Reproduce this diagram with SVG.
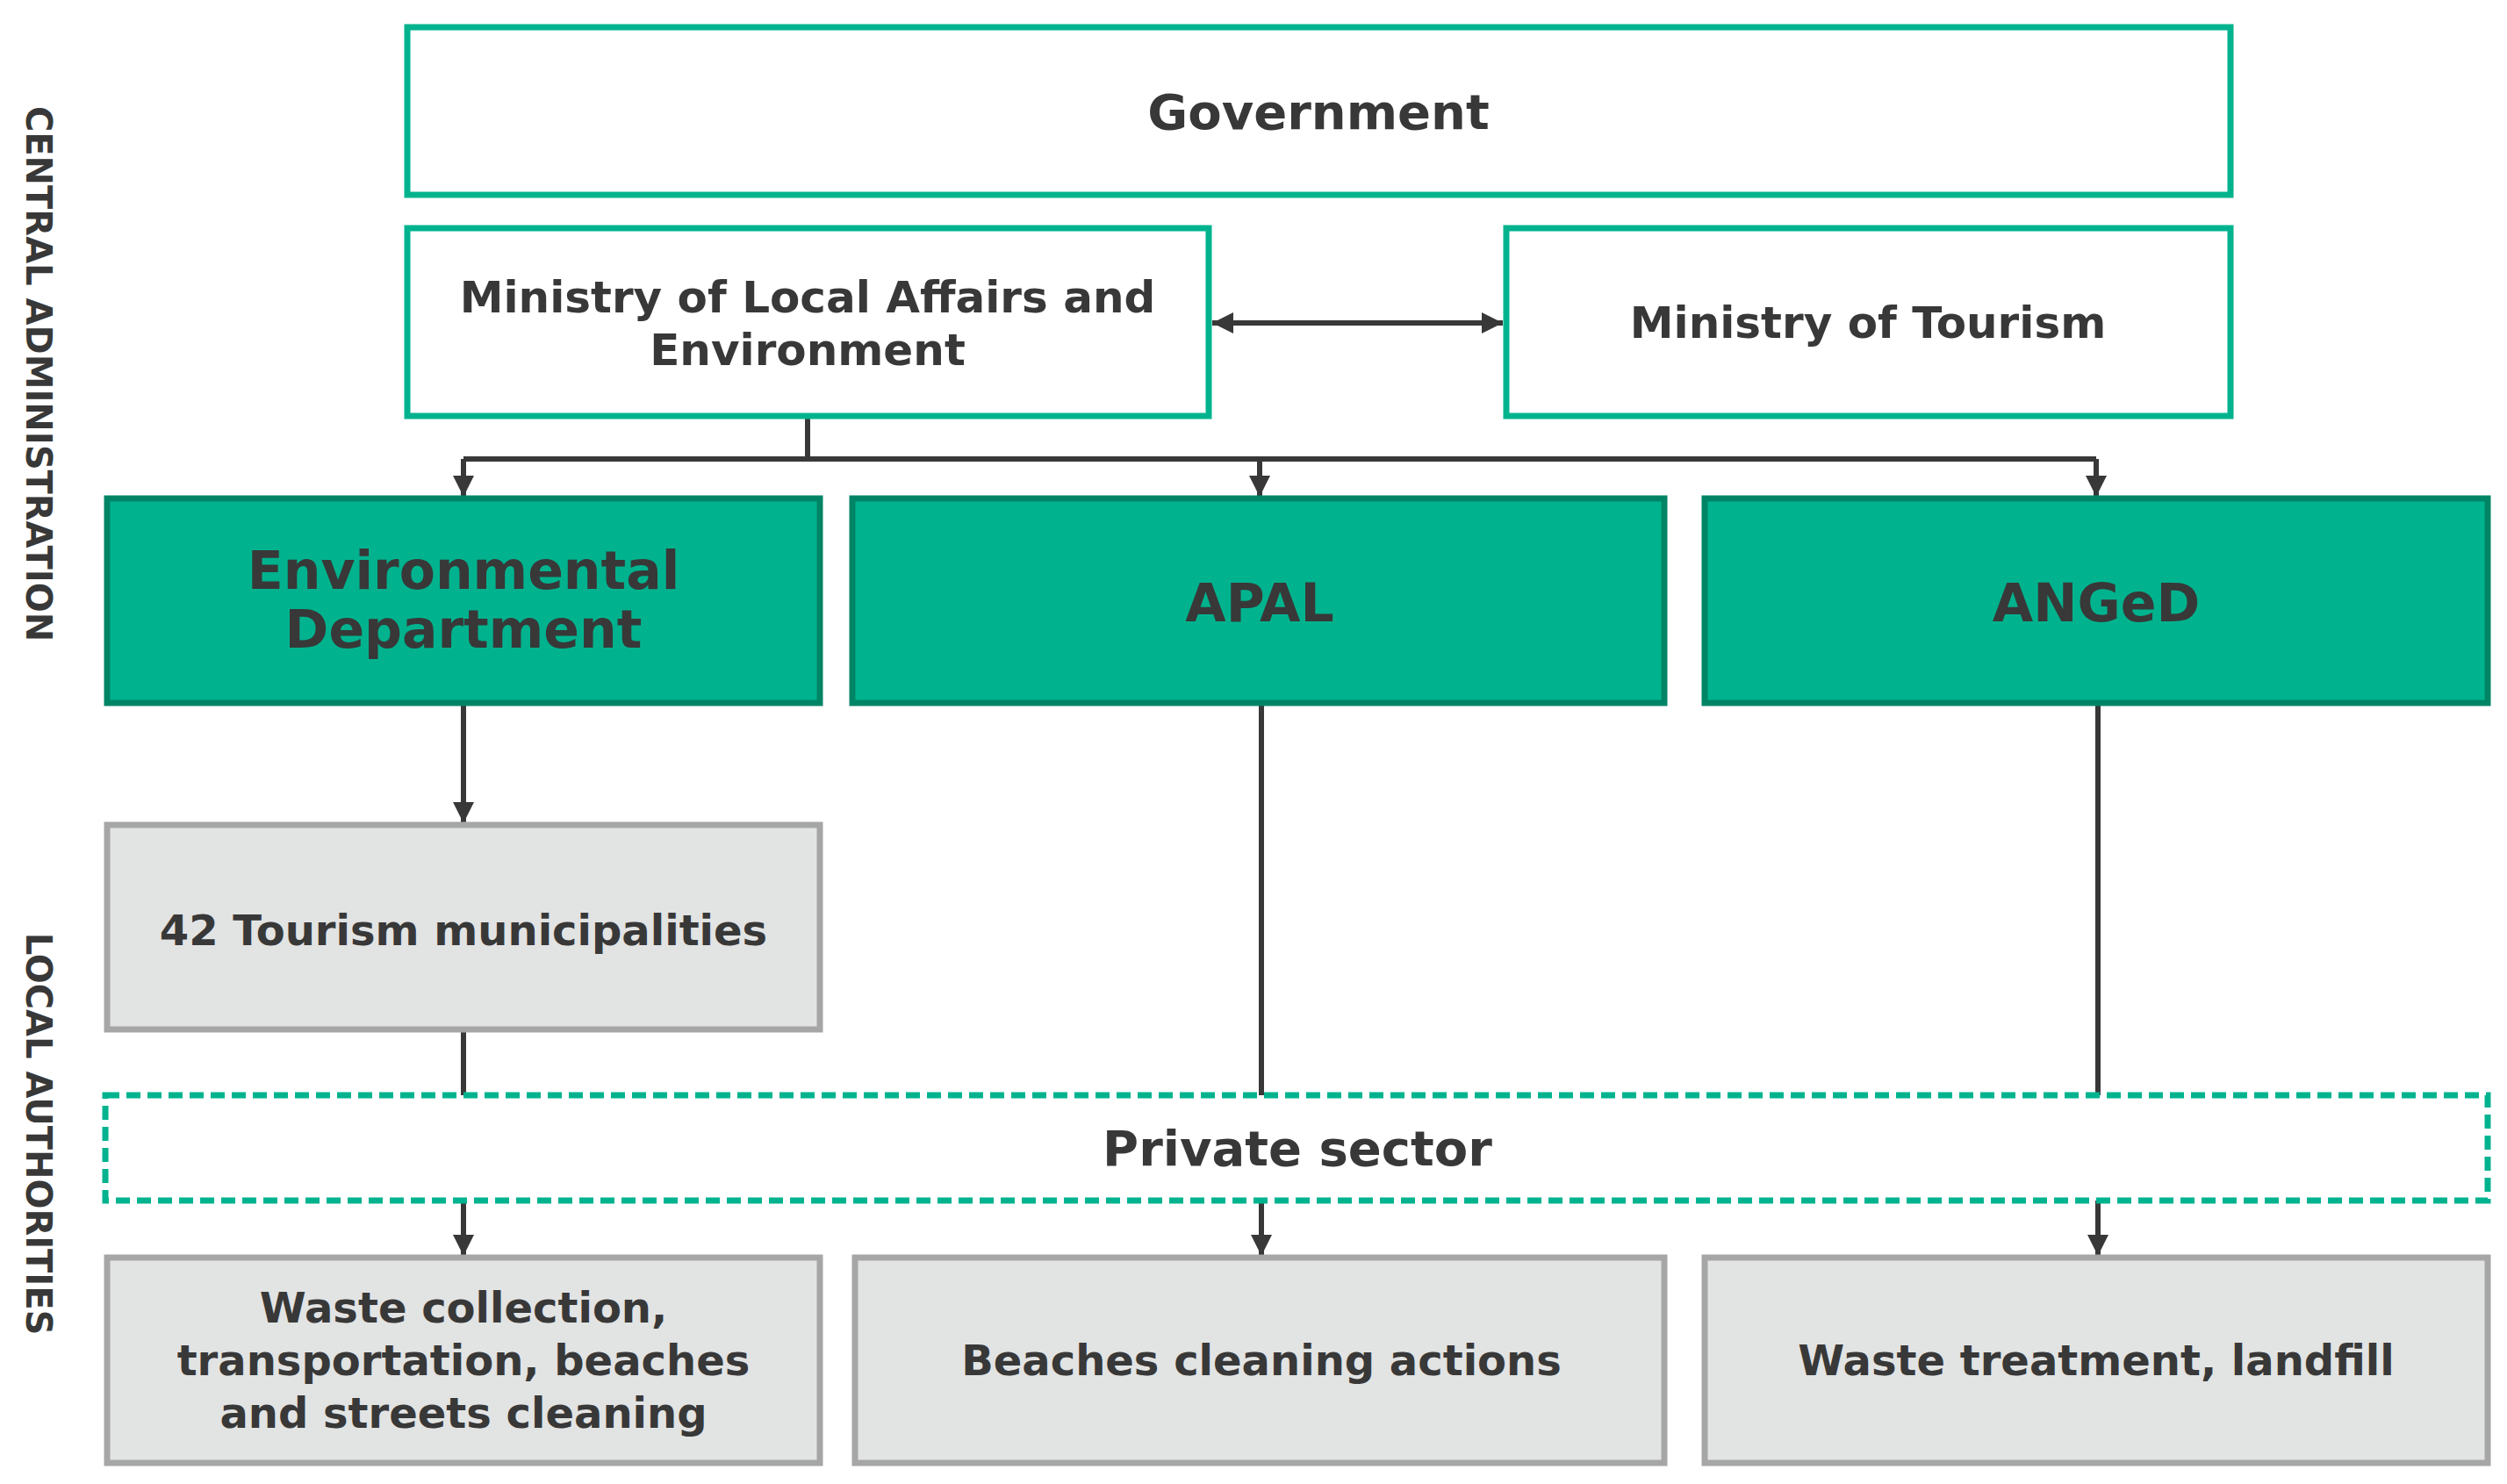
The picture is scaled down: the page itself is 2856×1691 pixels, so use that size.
<svg xmlns="http://www.w3.org/2000/svg" width="2856" height="1691" viewBox="0 0 2856 1691">
<style>
text{font-family:"DejaVu Sans",Verdana,sans-serif;font-weight:bold;fill:#383838;text-anchor:middle}
.w{fill:#fff;stroke:#00b38e;stroke-width:7}
.g{fill:#00b38e;stroke:#008466;stroke-width:7}
.p{fill:#e2e3e3;stroke:#a6a6a6;stroke-width:7}
.c{fill:none;stroke:#383838;stroke-width:6}
.side{font-size:40px}
</style>
<defs>
<marker id="a" viewBox="0 0 10 10" refX="10" refY="5" markerWidth="4" markerHeight="4" orient="auto-start-reverse"><path d="M0,0L10,5L0,10z" fill="#383838"/></marker>
</defs>
<rect width="2856" height="1691" fill="#fff"/>
<text class="side" transform="translate(30,426) rotate(90)">CENTRAL ADMINISTRATION</text>
<text class="side" transform="translate(30,1292) rotate(90)">LOCAL AUTHORITIES</text>
<g id="connectors">
<path class="c" d="M1381,368H1712" marker-start="url(#a)" marker-end="url(#a)"/>
<path class="c" d="M920,474V523"/>
<path class="c" d="M528,523H2388"/>
<path class="c" d="M528,523V566" marker-end="url(#a)"/>
<path class="c" d="M1435,523V566" marker-end="url(#a)"/>
<path class="c" d="M2388,523V566" marker-end="url(#a)"/>
<path class="c" d="M528,801V938" marker-end="url(#a)"/>
<path class="c" d="M528,1173V1248"/>
<path class="c" d="M1437,801V1248"/>
<path class="c" d="M2390,801V1248"/>
<path class="c" d="M528,1368V1431" marker-end="url(#a)"/>
<path class="c" d="M1437,1368V1431" marker-end="url(#a)"/>
<path class="c" d="M2390,1368V1431" marker-end="url(#a)"/>
</g>
<g id="government"><rect class="w" x="464" y="31" width="2077" height="191"/><text x="1502" y="147" font-size="56">Government</text></g>
<g id="ministry-local"><rect class="w" x="464" y="260" width="913" height="214"/><text x="920" y="356" font-size="50">Ministry of Local Affairs and</text><text x="920" y="416" font-size="50">Environment</text></g>
<g id="ministry-tourism"><rect class="w" x="1716" y="260" width="825" height="214"/><text x="2128" y="385" font-size="50">Ministry of Tourism</text></g>
<g id="env-dept"><rect class="g" x="122" y="568" width="812" height="233"/><text x="528" y="671" font-size="60">Environmental</text><text x="528" y="738" font-size="60">Department</text></g>
<g id="apal"><rect class="g" x="971" y="568" width="925" height="233"/><text x="1435" y="708" font-size="60">APAL</text></g>
<g id="anged"><rect class="g" x="1942" y="568" width="892" height="233"/><text x="2388" y="708" font-size="60">ANGeD</text></g>
<g id="municipalities"><rect class="p" x="122" y="940" width="812" height="233"/><text x="528" y="1077" font-size="48">42 Tourism municipalities</text></g>
<g id="private-sector"><rect x="120" y="1248" width="2714" height="120" fill="#fff" stroke="#00b38e" stroke-width="7" stroke-dasharray="16,8"/><text x="1478" y="1328" font-size="56">Private sector</text></g>
<g id="waste-collection"><rect class="p" x="122" y="1433" width="812" height="234"/><text x="528" y="1507" font-size="48">Waste collection,</text><text x="528" y="1567" font-size="48">transportation, beaches</text><text x="528" y="1627" font-size="48">and streets cleaning</text></g>
<g id="beaches"><rect class="p" x="974" y="1433" width="922" height="234"/><text x="1437" y="1567" font-size="48">Beaches cleaning actions</text></g>
<g id="waste-treatment"><rect class="p" x="1942" y="1433" width="892" height="234"/><text x="2388" y="1567" font-size="48">Waste treatment, landfill</text></g>
</svg>
